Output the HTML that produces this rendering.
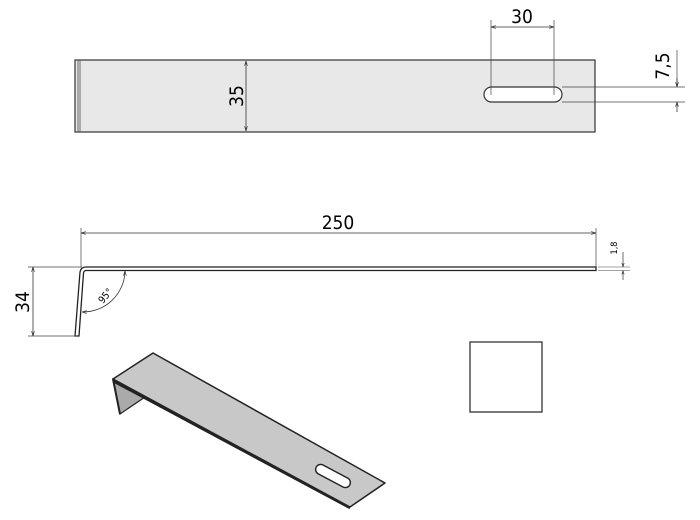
<!DOCTYPE html>
<html><head><style>
html,body{margin:0;padding:0;background:#fff;}
svg{display:block;font-family:"Liberation Sans Narrow","DejaVu Sans Condensed","Liberation Sans",sans-serif;}
</style></head><body>
<svg width="700" height="520" viewBox="0 0 700 520" xmlns="http://www.w3.org/2000/svg">
<defs>
<marker id="a" viewBox="0 0 10 10" refX="10" refY="5" markerWidth="6" markerHeight="6" orient="auto-start-reverse"><path d="M0,2 L10,5 L0,8" fill="none" stroke="#222" stroke-width="1.2"/></marker>
</defs>
<rect x="75" y="60" width="520" height="72" fill="#e8e8e8" stroke="#333" stroke-width="1.2"/>
<rect x="77" y="60.5" width="4" height="71" fill="#aaa"/>
<line x1="246" y1="61" x2="246" y2="131" stroke="#333" stroke-width="0.8" marker-start="url(#a)" marker-end="url(#a)"/>
<text transform="translate(243,96) rotate(-90)" text-anchor="middle" font-size="19">35</text>
<rect x="484" y="87" width="78" height="15" rx="7.5" fill="#fff" stroke="#333" stroke-width="1.2"/>
<line x1="491" y1="20" x2="491" y2="95" stroke="#444" stroke-width="0.7"/>
<line x1="554" y1="20" x2="554" y2="95" stroke="#444" stroke-width="0.7"/>
<line x1="491" y1="27" x2="554" y2="27" stroke="#333" stroke-width="0.8" marker-start="url(#a)" marker-end="url(#a)"/>
<text x="522" y="23" text-anchor="middle" font-size="19">30</text>
<line x1="562" y1="87" x2="685" y2="87" stroke="#444" stroke-width="0.7"/>
<line x1="562" y1="102" x2="685" y2="102" stroke="#444" stroke-width="0.7"/>
<line x1="677" y1="50" x2="677" y2="87" stroke="#444" stroke-width="0.7"/>
<line x1="677" y1="78" x2="677" y2="87" stroke="#333" stroke-width="0.8" marker-end="url(#a)"/>
<line x1="677" y1="112" x2="677" y2="102" stroke="#333" stroke-width="0.8" marker-end="url(#a)"/>
<text transform="translate(669,66) rotate(-90)" text-anchor="middle" font-size="19">7,5</text>
<line x1="81" y1="228" x2="81" y2="267" stroke="#444" stroke-width="0.7"/>
<line x1="596" y1="228" x2="596" y2="267" stroke="#444" stroke-width="0.7"/>
<line x1="81" y1="233" x2="596" y2="233" stroke="#333" stroke-width="0.8" marker-start="url(#a)" marker-end="url(#a)"/>
<text x="338" y="229" text-anchor="middle" font-size="19">250</text>
<path d="M75,336 L80,272 Q81,267 86,267 L596,267 L596,270.5 L86,270.5 Q84,270.5 83.5,273 L79,336 Z" fill="#fff" stroke="#222" stroke-width="1.3"/>
<line x1="28" y1="267" x2="82" y2="267" stroke="#444" stroke-width="0.7"/>
<line x1="28" y1="336" x2="77" y2="336" stroke="#444" stroke-width="0.7"/>
<line x1="33" y1="267" x2="33" y2="336" stroke="#333" stroke-width="0.8" marker-start="url(#a)" marker-end="url(#a)"/>
<text transform="translate(29,302) rotate(-90)" text-anchor="middle" font-size="19">34</text>
<path d="M125,271 A42,42 0 0 1 82,312" fill="none" stroke="#333" stroke-width="0.8" marker-start="url(#a)" marker-end="url(#a)"/>
<text transform="translate(108,298) rotate(-50)" text-anchor="middle" font-size="10">95°</text>
<line x1="598" y1="267" x2="630" y2="267" stroke="#444" stroke-width="0.6"/>
<line x1="598" y1="270.5" x2="630" y2="270.5" stroke="#444" stroke-width="0.6"/>
<line x1="623" y1="252" x2="623" y2="267" stroke="#333" stroke-width="0.7" marker-end="url(#a)"/>
<line x1="623" y1="280" x2="623" y2="270.5" stroke="#333" stroke-width="0.7" marker-end="url(#a)"/>
<text transform="translate(617,248) rotate(-90)" text-anchor="middle" font-size="9">1,8</text>
<polygon points="113,379 120,414 145,397" fill="#aaa" stroke="#222" stroke-width="1.2"/>
<polygon points="113,379 153,353 385,483 350,507" fill="#c8c8c8" stroke="#222" stroke-width="1.5" stroke-linejoin="round"/>
<line x1="113" y1="379" x2="120" y2="414" stroke="#222" stroke-width="2"/>
<line x1="113" y1="381" x2="350" y2="508" stroke="#222" stroke-width="2.5"/>
<g transform="translate(333,476) rotate(28)"><rect x="-19" y="-5" width="38" height="10" rx="5" fill="#fff" stroke="#222" stroke-width="1.4"/></g>
<rect x="470" y="342" width="72" height="70" fill="#fff" stroke="#333" stroke-width="1.3"/>
</svg>
</body></html>
